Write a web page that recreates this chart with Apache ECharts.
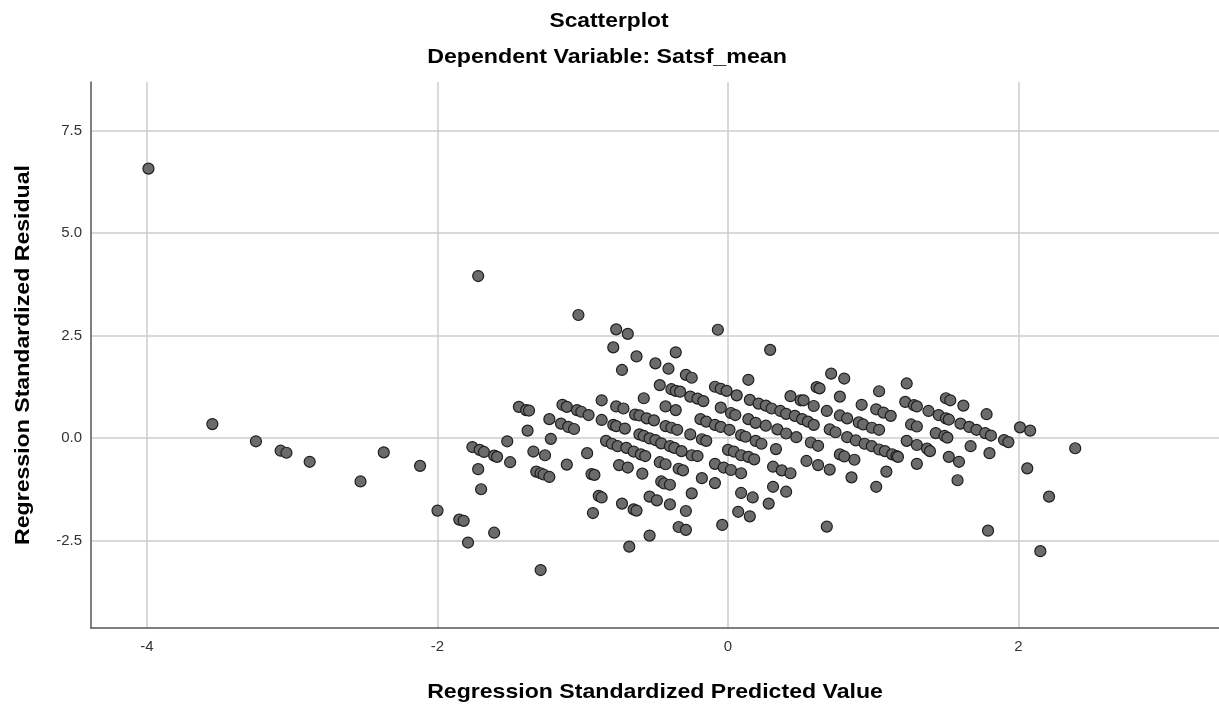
<!DOCTYPE html>
<html>
<head>
<meta charset="utf-8">
<script src="https://cdn.jsdelivr.net/npm/echarts@6/dist/echarts.min.js"></script>
<style>
  html, body { margin: 0; padding: 0; background: #ffffff; }
  #chart { width: 1219px; height: 704px; }
</style>
</head>
<body>
<div id="chart"></div>
<script>
// ---- data ----
const chartTitle = 'Scatterplot';
const chartSubtitle = 'Dependent Variable: Satsf_mean';
const xAxisTitle = 'Regression Standardized Predicted Value';
const yAxisTitle = 'Regression Standardized Residual';
const xTickValues = [-4, -2, 0, 2];
const yTickValues = [-2.5, 0, 2.5, 5, 7.5];

// [standardized predicted value, standardized residual]
const residualPoints = [
  [-3.99,6.57],[-1.72,3.95],[-3.55,0.34],[-3.25,-0.08],[-3.08,-0.31],[-3.04,-0.36],[-2.88,-0.58],
  [-2.53,-1.06],[-2.37,-0.35],[-2.12,-0.68],[-2.00,-1.77],[-1.85,-1.99],[-1.82,-2.02],[-1.79,-2.55],
  [-1.76,-0.22],[-1.71,-0.29],[-1.68,-0.34],[-1.72,-0.76],[-1.70,-1.25],[-1.61,-2.31],
  [-1.03,3.00],[-0.77,2.65],[-0.79,2.21],[-1.44,0.76],[-1.39,0.68],[-1.37,0.67],[-0.87,0.92],
  [-1.14,0.81],[-1.11,0.76],[-1.04,0.68],[-1.01,0.64],[-0.96,0.56],[-0.77,0.77],[-1.23,0.46],
  [-1.15,0.35],[-1.10,0.27],[-1.06,0.22],[-1.38,0.18],[-0.87,0.44],[-0.79,0.32],[-0.77,0.29],
  [-1.52,-0.08],[-1.22,-0.02],[-1.61,-0.43],[-1.59,-0.46],[-1.50,-0.59],[-1.34,-0.33],[-1.26,-0.42],
  [-0.84,-0.07],[-0.80,-0.14],[-0.76,-0.20],[-0.97,-0.37],[-1.11,-0.65],[-0.75,-0.66],[-1.32,-0.82],
  [-1.29,-0.86],[-1.27,-0.89],[-1.23,-0.95],[-0.94,-0.88],[-0.92,-0.90],[-0.89,-1.41],[-0.87,-1.45],
  [-0.93,-1.83],[-1.29,-3.22],
  [-0.69,2.54],[-0.07,2.64],[0.29,2.15],[-0.63,1.99],[-0.36,2.09],[-0.50,1.82],[-0.41,1.69],[-0.73,1.66],
  [-0.29,1.54],[-0.25,1.47],[-0.47,1.29],[-0.39,1.19],[-0.36,1.15],[-0.33,1.13],[-0.26,1.01],
  [-0.21,0.96],[-0.17,0.90],[-0.58,0.97],[-0.09,1.25],[-0.05,1.20],[-0.01,1.15],[0.06,1.04],
  [0.14,1.42],[0.15,0.93],[0.21,0.84],[0.26,0.79],[0.30,0.72],[0.36,0.66],[0.40,0.59],[0.43,1.02],
  [0.50,0.92],[0.46,0.54],[-0.72,0.72],[-0.43,0.77],[-0.36,0.68],[-0.05,0.74],[0.02,0.61],[0.05,0.56],
  [-0.64,0.57],[-0.61,0.55],[-0.56,0.48],[-0.51,0.43],[-0.19,0.46],[-0.15,0.40],[-0.09,0.32],
  [-0.05,0.27],[0.01,0.20],[0.09,0.07],[0.12,0.03],[0.14,0.46],[0.19,0.37],[0.26,0.30],[0.19,-0.07],
  [0.23,-0.14],[0.34,0.21],[0.40,0.11],[0.47,0.02],[-0.43,0.29],[-0.39,0.25],[-0.35,0.20],[-0.26,0.09],
  [-0.71,0.23],[-0.61,0.09],[-0.58,0.05],[-0.54,-0.01],[-0.50,-0.05],[-0.46,-0.13],[-0.40,-0.20],
  [-0.37,-0.24],[-0.32,-0.32],[-0.25,-0.42],[-0.21,-0.44],[-0.18,-0.03],[-0.15,-0.07],[-0.70,-0.24],
  [-0.65,-0.33],[-0.60,-0.40],[-0.57,-0.44],[0.00,-0.29],[0.04,-0.33],[0.09,-0.42],[0.14,-0.46],
  [0.18,-0.52],[0.33,-0.27],[-0.69,-0.72],[-0.59,-0.87],[-0.47,-0.59],[-0.43,-0.64],[-0.34,-0.75],
  [-0.31,-0.79],[-0.09,-0.63],[-0.03,-0.72],[0.02,-0.78],[0.09,-0.86],[0.31,-0.70],[0.37,-0.79],
  [0.43,-0.86],[-0.46,-1.06],[-0.44,-1.11],[-0.40,-1.14],[-0.18,-0.98],[-0.09,-1.10],[-0.25,-1.35],
  [0.09,-1.34],[0.17,-1.45],[0.31,-1.19],[0.40,-1.31],[-0.73,-1.60],[-0.65,-1.74],[-0.63,-1.77],
  [-0.54,-1.43],[-0.49,-1.52],[-0.40,-1.62],[-0.29,-1.78],[0.28,-1.60],[0.07,-1.80],[0.15,-1.91],
  [-0.34,-2.17],[-0.29,-2.24],[-0.04,-2.12],[-0.54,-2.38],[-0.68,-2.65],
  [0.71,1.57],[0.80,1.45],[1.23,1.33],[0.61,1.24],[0.63,1.21],[0.77,1.01],[1.04,1.14],[0.92,0.81],
  [1.02,0.70],[1.07,0.62],[1.12,0.54],[0.52,0.92],[0.59,0.78],[0.68,0.66],[0.77,0.55],[0.82,0.48],
  [0.90,0.38],[0.93,0.33],[0.99,0.25],[1.04,0.20],[1.22,0.88],[1.28,0.80],[1.30,0.77],[1.38,0.66],
  [1.45,0.56],[1.50,0.97],[1.53,0.92],[1.62,0.79],[1.50,0.48],[1.52,0.45],[1.60,0.35],[1.66,0.27],
  [1.71,0.20],[1.77,0.12],[1.81,0.06],[1.78,0.58],[1.26,0.33],[1.30,0.28],[1.43,0.12],[1.49,0.05],
  [1.51,0.01],[1.23,-0.07],[1.30,-0.17],[1.37,-0.26],[1.39,-0.32],[1.67,-0.20],[1.80,-0.37],
  [0.51,0.46],[0.55,0.40],[0.59,0.32],[0.57,-0.11],[0.62,-0.19],[0.70,0.21],[0.74,0.14],[0.82,0.02],
  [0.88,-0.06],[0.94,-0.14],[0.99,-0.20],[1.04,-0.28],[1.08,-0.32],[1.13,-0.40],[1.16,-0.44],
  [1.17,-0.46],[0.54,-0.56],[0.62,-0.66],[0.70,-0.77],[0.77,-0.40],[0.80,-0.45],[0.87,-0.53],
  [1.30,-0.63],[1.52,-0.46],[1.59,-0.58],[0.85,-0.96],[1.09,-0.82],[1.02,-1.19],[1.58,-1.03],
  [0.68,-2.16],[1.79,-2.26],
  [2.01,0.26],[2.08,0.18],[1.90,-0.05],[1.93,-0.10],[2.39,-0.25],[2.06,-0.74],[2.21,-1.43],[2.15,-2.76]
];

// ---- chart ----
const FONT = '"Liberation Sans", Arial, sans-serif';
const chart = echarts.init(document.getElementById('chart'), null, { renderer: 'canvas' });

function bigText(text, x, y, size, scaleX, rotation) {
  return {
    type: 'text', x: x, y: y, scaleX: scaleX, rotation: rotation || 0,
    style: { text: text, fontFamily: FONT, fontSize: size, fontWeight: 'bold', fill: '#000',
      align: 'center', verticalAlign: 'middle' }
  };
}

chart.setOption({
  backgroundColor: '#ffffff',
  animation: false,
  graphic: [
    bigText(chartTitle, 609, 21, 20, 1.14),
    bigText(chartSubtitle, 607, 57, 20, 1.16),
    bigText(xAxisTitle, 655, 692, 21, 1.1),
    bigText(yAxisTitle, 23, 355, 21, 1.1, Math.PI / 2)
  ],
  grid: { left: 91, right: 0, top: 82, bottom: 76, containLabel: false },
  xAxis: {
    type: 'value',
    min: -4.3855, max: 3.38,
    axisLine: { show: true, onZero: false, lineStyle: { color: '#555', width: 1.5 } },
    axisTick: { show: false, customValues: xTickValues },
    axisLabel: { customValues: xTickValues, fontFamily: FONT, fontSize: 15, color: '#333', margin: 11,
      formatter: v => String(v) },
    splitLine: { show: true, lineStyle: { color: '#cccccc', width: 1.5 } }
  },
  yAxis: {
    type: 'value',
    min: -4.634, max: 8.683,
    axisLine: { show: true, onZero: false, lineStyle: { color: '#555', width: 1.5 } },
    axisTick: { show: false, customValues: yTickValues },
    axisLabel: { customValues: yTickValues, fontFamily: FONT, fontSize: 15, color: '#333', margin: 9,
      formatter: v => v.toFixed(1) },
    splitLine: { show: true, lineStyle: { color: '#cccccc', width: 1.5 } }
  },
  series: [{
    type: 'scatter',
    data: residualPoints,
    symbol: 'circle',
    symbolSize: 11,
    itemStyle: { color: '#6b6b6b', borderColor: '#1e1e1e', borderWidth: 1.2, opacity: 1 }
  }]
});
</script>
</body>
</html>
